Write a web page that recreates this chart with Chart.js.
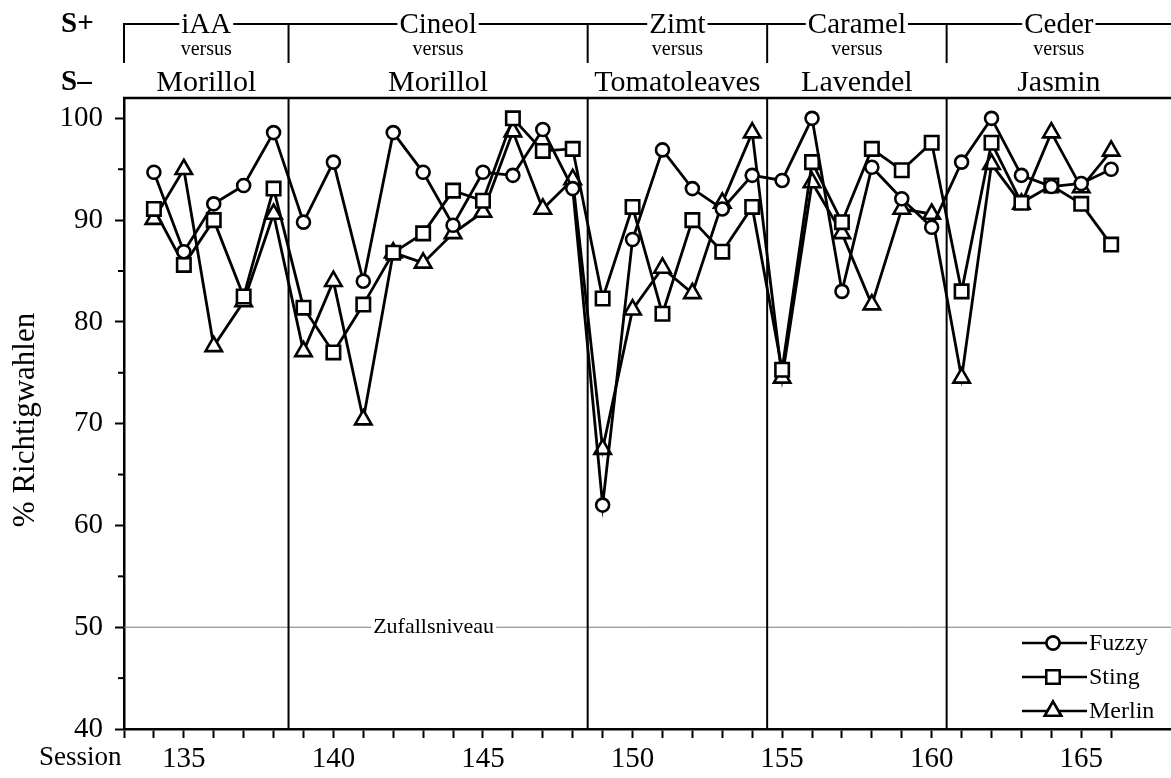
<!DOCTYPE html>
<html>
<head>
<meta charset="utf-8">
<script src="https://cdn.jsdelivr.net/npm/chart.js@4.4.1/dist/chart.umd.min.js"></script>
<style>
  html, body { margin: 0; padding: 0; background: #fff; }
  #wrap { width: 1171px; height: 778px; }
</style>
</head>
<body>
<div id="wrap"><canvas id="chart" width="1171" height="778"></canvas></div>
<script>
// ====================
// Datos: % Richtigwahlen por sesión
// ====================
const sessions = [134, 135, 136, 137, 138, 139, 140, 141, 142, 143, 144,
                  145, 146, 147, 148, 149, 150, 151, 152, 153, 154, 155,
                  156, 157, 158, 159, 160, 161, 162, 163, 164, 165, 166];

const fuzzy  = [94.7, 86.9, 91.6, 93.4, 98.6, 89.8, 95.7, 84.0, 98.6, 94.7, 89.5,
                94.7, 94.4, 98.9, 93.1, 62.0, 88.1, 96.9, 93.1, 91.1, 94.4, 93.9,
                100,  83.0, 95.2, 92.1, 89.3, 95.7, 100,  94.4, 93.3, 93.6, 95.0];
const sting  = [91.1, 85.6, 90.0, 82.5, 93.1, 81.4, 77.0, 81.7, 86.8, 88.7, 92.9,
                91.9, 100,  96.8, 97.0, 82.3, 91.3, 80.8, 90.0, 86.9, 91.3, 75.3,
                95.7, 89.8, 97.0, 94.9, 97.6, 83.0, 97.6, 91.7, 93.4, 91.6, 87.6];
const merlin = [90.1, 95.0, 77.6, 82.0, 90.6, 77.1, 84.0, 70.4, 86.8, 85.8, 88.7,
                90.8, 98.7, 91.1, 94.0, 67.5, 81.2, 85.3, 82.8, 91.7, 98.6, 74.5,
                93.7, 88.7, 81.7, 91.1, 90.6, 74.5, 95.5, 91.6, 98.6, 93.2, 96.8];

// bloques de estímulos (S+ versus S–)
const blockBounds = [138.5, 148.5, 154.5, 160.5];
const sPlus  = ["iAA", "Cineol", "Zimt", "Caramel", "Ceder"];
const sMinus = ["Morillol", "Morillol", "Tomatoleaves", "Lavendel", "Jasmin"];

// ejes
const xMin = 133, xMax = 168;
const xTicks  = [133, 134, 135, 136, 137, 138, 139, 140, 141, 142, 143, 144, 145, 146, 147, 148, 149,
                 150, 151, 152, 153, 154, 155, 156, 157, 158, 159, 160, 161, 162, 163, 164, 165, 166];
const xLabels = [135, 140, 145, 150, 155, 160, 165];
const yMin = 40, yMax = 102;
const yTicks = [40, 50, 60, 70, 80, 90, 100];
const yMinor = [45, 55, 65, 75, 85, 95];

const chanceLevel = 50;
const chanceText = "Zufallsniveau";
const chanceTextAt = 143.35;

const SERIF = '"Liberation Serif", "Times New Roman", serif';
Chart.defaults.font.family = SERIF;
Chart.defaults.color = "#000";

const pts = (arr) => sessions.map((s, i) => ({ x: s, y: arr[i] }));

const series = [
    { label: "Fuzzy",  data: fuzzy,  style: "circle",   r: 6.5 },
    { label: "Sting",  data: sting,  style: "rect",     r: 9.5 },
    { label: "Merlin", data: merlin, style: "triangle", r: 9.5 }
];

// ------------- decoración (cabecera, separadores, leyenda) -------------
const decor = {
    id: "decor",
    beforeDatasetsDraw(chart) {
        const { ctx, chartArea: a, scales: { x, y } } = chart;
        ctx.save();
        // nivel de azar
        const yc = y.getPixelForValue(chanceLevel);
        ctx.strokeStyle = "#7a7a7a";
        ctx.lineWidth = 1;
        ctx.beginPath(); ctx.moveTo(a.left, yc); ctx.lineTo(a.right, yc); ctx.stroke();
        ctx.font = `22px ${SERIF}`;
        const cx = x.getPixelForValue(chanceTextAt);
        const cw = ctx.measureText(chanceText).width;
        ctx.fillStyle = "#fff";
        ctx.fillRect(cx - cw / 2 - 2, yc - 3, cw + 4, 6);
        ctx.fillStyle = "#000";
        ctx.textAlign = "center"; ctx.textBaseline = "middle";
        ctx.fillText(chanceText, cx, yc);

        // separadores entre bloques
        ctx.strokeStyle = "#000";
        ctx.lineWidth = 2;
        blockBounds.forEach(b => {
            const px = x.getPixelForValue(b);
            ctx.beginPath(); ctx.moveTo(px, a.top); ctx.lineTo(px, a.bottom); ctx.stroke();
        });
        // borde superior
        ctx.lineWidth = 2.5;
        ctx.beginPath(); ctx.moveTo(a.left - 1, a.top); ctx.lineTo(a.right, a.top); ctx.stroke();
        ctx.restore();
    },
    afterDraw(chart) {
        const { ctx, chartArea: a, scales: { x, y } } = chart;
        ctx.save();
        ctx.fillStyle = "#000";
        ctx.strokeStyle = "#000";

        // ticks menores del eje Y
        ctx.lineWidth = 2;
        yMinor.forEach(v => {
            const py = y.getPixelForValue(v);
            ctx.beginPath(); ctx.moveTo(a.left - 6, py); ctx.lineTo(a.left, py); ctx.stroke();
        });

        // cabecera S+ / versus / S–
        const edges = [a.left, ...blockBounds.map(b => x.getPixelForValue(b)), a.right];
        const lineY = 24, tickBottom = 63;
        ctx.lineWidth = 2;
        ctx.beginPath(); ctx.moveTo(a.left, lineY); ctx.lineTo(a.right, lineY); ctx.stroke();
        edges.slice(0, -1).forEach(px => {
            ctx.beginPath(); ctx.moveTo(px, lineY - 1); ctx.lineTo(px, tickBottom); ctx.stroke();
        });
        ctx.textAlign = "center"; ctx.textBaseline = "middle";
        sPlus.forEach((t, i) => {
            const mid = (edges[i] + edges[i + 1]) / 2;
            ctx.font = `29px ${SERIF}`;
            const w = ctx.measureText(t).width;
            ctx.fillStyle = "#fff";
            ctx.fillRect(mid - w / 2 - 2, lineY - 4, w + 4, 8);
            ctx.fillStyle = "#000";
            ctx.fillText(t, mid, lineY + 1);
            ctx.font = `20px ${SERIF}`;
            ctx.fillText("versus", mid, 50);
            ctx.font = `30px ${SERIF}`;
            ctx.fillText(sMinus[i], mid, 83);
        });
        ctx.textAlign = "left";
        ctx.font = `bold 29px ${SERIF}`;
        ctx.fillText("S+", 61, 25);
        ctx.fillText("S\u2013", 61, 83);

        // títulos de ejes
        ctx.font = `27px ${SERIF}`;
        ctx.fillText("Session", 39, 758);
        ctx.save();
        ctx.translate(26, 420);
        ctx.rotate(-Math.PI / 2);
        ctx.textAlign = "center";
        ctx.font = `31px ${SERIF}`;
        ctx.fillText("% Richtigwahlen", 0, 0);
        ctx.restore();

        // leyenda
        const lx0 = a.right - 149, lx1 = a.right - 84, mx = a.right - 118;
        chart.data.datasets.forEach((ds, i) => {
            const ly = 643 + i * 34;
            ctx.lineWidth = 2.5;
            ctx.beginPath(); ctx.moveTo(lx0, ly); ctx.lineTo(lx1, ly); ctx.stroke();
            ctx.fillStyle = "#fff";
            Chart.helpers.drawPoint(ctx, {
                pointStyle: ds.pointStyle, radius: ds.pointRadius,
                borderWidth: 2.5, rotation: 0
            }, mx, ly);
            ctx.fill();
            ctx.stroke();
            ctx.fillStyle = "#000";
            ctx.textAlign = "left";
            ctx.font = `24px ${SERIF}`;
            ctx.fillText(ds.label, lx1 + 2, ly + 1);
        });
        ctx.restore();
    }
};

new Chart(document.getElementById("chart"), {
    type: "line",
    data: {
        datasets: series.map(s => ({
            label: s.label,
            data: pts(s.data),
            borderColor: "#000",
            borderWidth: 2.8,
            backgroundColor: "#fff",
            pointStyle: s.style,
            pointRadius: s.r,
            pointBorderWidth: 2.6,
            pointBackgroundColor: "#fff",
            pointBorderColor: "#000",
            tension: 0,
            clip: false
        }))
    },
    options: {
        responsive: false,
        animation: false,
        devicePixelRatio: 1,
        layout: { autoPadding: false, padding: { top: 98, left: 0, right: 0, bottom: 0 } },
        plugins: { legend: { display: false }, tooltip: { enabled: false } },
        scales: {
            x: {
                type: "linear",
                min: xMin, max: xMax,
                afterBuildTicks: (s) => { s.ticks = xTicks.map(v => ({ value: v })); },
                afterFit: (s) => { s.height = 49; },
                border: { color: "#000", width: 2.5 },
                grid: { drawOnChartArea: false, drawTicks: true, tickLength: 9, tickWidth: 2, tickColor: "#000" },
                ticks: {
                    autoSkip: false, maxRotation: 0, padding: 4,
                    font: { size: 29 },
                    callback: (v) => xLabels.includes(v) ? String(v) : ""
                }
            },
            y: {
                min: yMin, max: yMax,
                afterBuildTicks: (s) => { s.ticks = yTicks.map(v => ({ value: v })); },
                afterFit: (s) => { s.width = 124; },
                border: { color: "#000", width: 2.5 },
                grid: { drawOnChartArea: false, drawTicks: true, tickLength: 9, tickWidth: 2, tickColor: "#000" },
                ticks: { padding: 12, font: { size: 29 }, callback: (v) => String(v) }
            }
        }
    },
    plugins: [decor]
});
</script>
</body>
</html>
